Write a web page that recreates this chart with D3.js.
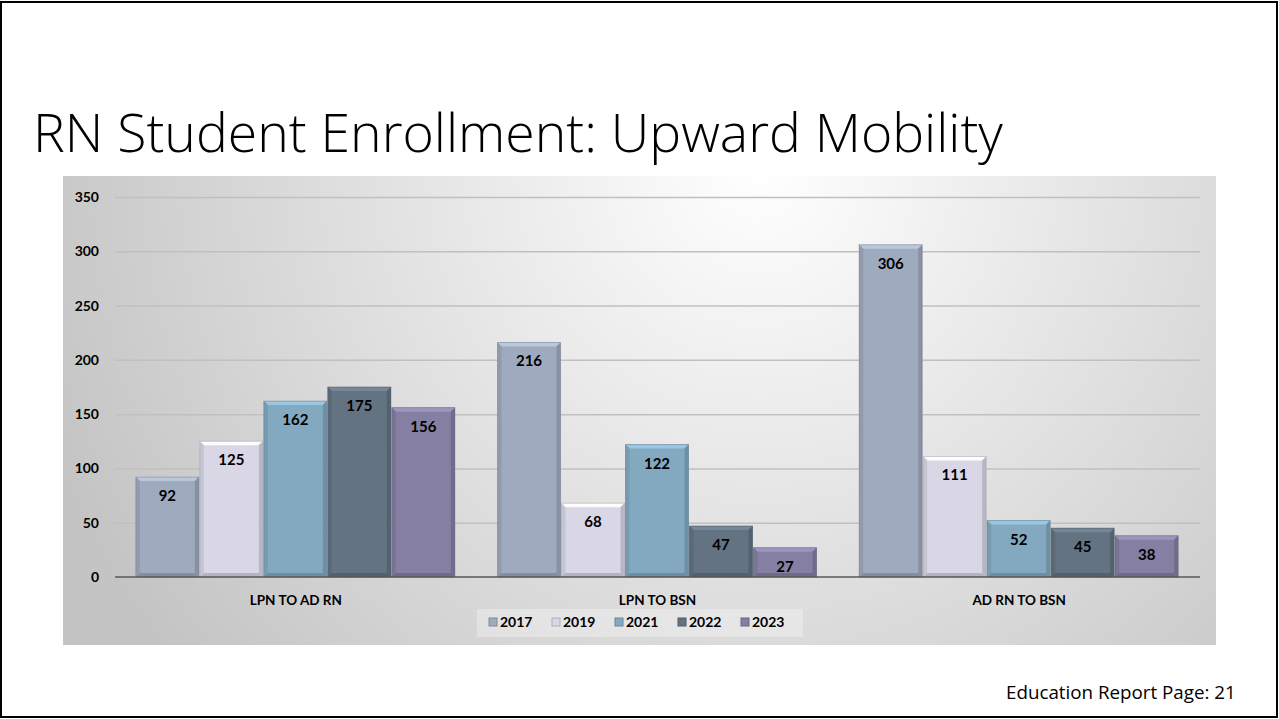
<!DOCTYPE html>
<html>
<head>
<meta charset="utf-8">
<script src="https://cdn.jsdelivr.net/npm/d3@7"></script>
<style>
  html, body { margin: 0; padding: 0; background: #fff; }
  svg { display: block; }
</style>
</head>
<body>
<div id="chart"></div>
<script>
// data
const categories = ["LPN TO AD RN", "LPN TO BSN", "AD RN TO BSN"];
const years = ["2017", "2019", "2021", "2022", "2023"];
const s2017 = [92, 216, 306];
const s2019 = [125, 68, 111];
const s2021 = [162, 122, 52];
const s2022 = [175, 47, 45];
const s2023 = [156, 27, 38];
const yTicks = [0, 50, 100, 150, 200, 250, 300, 350];
const colors = ["#9eaabd", "#d9d7e6", "#82a9c0", "#637382", "#857fa3"];

const series = [s2017, s2019, s2021, s2022, s2023];
const rows = [];
categories.forEach((c, ci) => {
    years.forEach((yr, yi) => {
        rows.push({cat: c, year: yr, value: series[yi][ci], color: colors[yi]});
    });
});

var w = 1279;
var h = 719;

const svg = d3.select("#chart")
    .append("svg")
    .attr("width", w)
    .attr("height", h);

const defs = svg.append("defs");
const bg = defs.append("radialGradient")
    .attr("id", "bg")
    .attr("gradientUnits", "userSpaceOnUse")
    .attr("cx", 760).attr("cy", 170)
    .attr("r", 760)
    .attr("fx", 760).attr("fy", 170);
bg.append("stop").attr("offset", "0%").attr("stop-color", "#ffffff");
bg.append("stop").attr("offset", "100%").attr("stop-color", "#c4c4c4");

// slide frame
svg.append("rect")
    .attr("x", 1).attr("y", 2)
    .attr("width", 1276).attr("height", 715)
    .attr("fill", "#fff")
    .attr("stroke", "#000")
    .attr("stroke-width", 2);

// title
const title = svg.append("text")
    .attr("x", 33).attr("y", 152)
    .attr("font-family", "'Open Sans', sans-serif")
    .attr("font-weight", 300)
    .attr("font-size", 50)
    .attr("fill", "#000")
    .text("RN Student Enrollment: Upward Mobility");
fitWidth(title, 970);

// chart area
svg.append("rect")
    .attr("x", 63).attr("y", 176)
    .attr("width", 1153).attr("height", 469)
    .attr("fill", "url(#bg)");

var scaleY = d3.scaleLinear()
    .domain([0, 350])
    .range([577, 197]);

var x0 = d3.scaleBand()
    .domain(categories)
    .range([115, 1200])
    .paddingInner(0)
    .paddingOuter(0);

var x1 = d3.scaleBand()
    .domain(years)
    .range([0, x0.bandwidth()])
    .paddingInner(0)
    .paddingOuter(0.326);

// gridlines
svg.append("g")
    .selectAll("line")
    .data(yTicks.filter(t => t > 0))
    .enter()
    .append("line")
    .attr("x1", 115).attr("x2", 1200)
    .attr("y1", d => scaleY(d) + 0.5)
    .attr("y2", d => scaleY(d) + 0.5)
    .attr("stroke", "#c0c0c0")
    .attr("stroke-width", 1.5);

// y labels
svg.append("g")
    .selectAll("text")
    .data(yTicks)
    .enter()
    .append("text")
    .attr("x", 99)
    .attr("y", d => scaleY(d) + 5)
    .attr("text-anchor", "end")
    .attr("font-family", "Lato, sans-serif")
    .attr("font-weight", "bold")
    .attr("font-size", 14)
    .attr("fill", "#000")
    .text(d => d);

// bars with a bevel look
const bars = svg.append("g")
    .selectAll("g")
    .data(rows)
    .enter()
    .append("g")
    .attr("transform", d => "translate(" + (x0(d.cat) + x1(d.year)) + ",0)");

bars.each(function(d) {
    const g = d3.select(this);
    const bw = x1.bandwidth() - 1;
    const top = scaleY(d.value);
    const bot = scaleY(0);
    const e = 4;
    const c = d3.color(d.color);
    g.append("rect")
        .attr("x", 0).attr("y", top)
        .attr("width", bw).attr("height", bot - top)
        .attr("fill", d.color);
    // top bevel
    g.append("polygon")
        .attr("points", [[0, top], [bw, top], [bw - e, top + e], [e, top + e]].join(" "))
        .attr("fill", c.brighter(0.45));
    // left bevel
    g.append("polygon")
        .attr("points", [[0, top], [e, top + e], [e, bot - e], [0, bot]].join(" "))
        .attr("fill", c.darker(0.25));
    // right bevel
    g.append("polygon")
        .attr("points", [[bw, top], [bw, bot], [bw - e, bot - e], [bw - e, top + e]].join(" "))
        .attr("fill", c.darker(0.45));
    // bottom bevel
    g.append("polygon")
        .attr("points", [[0, bot], [bw, bot], [bw - e, bot - e], [e, bot - e]].join(" "))
        .attr("fill", c.darker(0.5));
    g.append("rect")
        .attr("x", 0).attr("y", top)
        .attr("width", bw).attr("height", bot - top)
        .attr("fill", "none")
        .attr("stroke", c.darker(0.8))
        .attr("stroke-opacity", 0.5)
        .attr("stroke-width", 1);
    g.append("text")
        .attr("x", bw / 2)
        .attr("y", top + 24)
        .attr("text-anchor", "middle")
        .attr("font-family", "Lato, sans-serif")
        .attr("font-weight", "bold")
        .attr("font-size", 15)
        .attr("fill", "#000")
        .text(d.value);
});

// baseline
svg.append("line")
    .attr("x1", 115).attr("x2", 1200)
    .attr("y1", scaleY(0)).attr("y2", scaleY(0))
    .attr("stroke", "#595959")
    .attr("stroke-width", 1.5);

// category labels
svg.append("g")
    .selectAll("text")
    .data(categories)
    .enter()
    .append("text")
    .attr("x", d => x0(d) + x0.bandwidth() / 2)
    .attr("y", 605)
    .attr("text-anchor", "middle")
    .attr("font-family", "Lato, sans-serif")
    .attr("font-weight", "bold")
    .attr("font-size", 13.5)
    .attr("fill", "#000")
    .text(d => d);

// legend
svg.append("rect")
    .attr("x", 477).attr("y", 609)
    .attr("width", 326).attr("height", 28)
    .attr("fill", "#fff")
    .attr("fill-opacity", 0.3);

const legend = svg.append("g")
    .selectAll("g")
    .data(years)
    .enter()
    .append("g")
    .attr("transform", (d, i) => "translate(" + (489 + i * 63) + ",618)");

legend.append("rect")
    .attr("width", 8).attr("height", 8)
    .attr("fill", (d, i) => colors[i])
    .attr("stroke", (d, i) => d3.color(colors[i]).darker(0.6))
    .attr("stroke-width", 1);

legend.append("text")
    .attr("x", 11).attr("y", 9)
    .attr("font-family", "Lato, sans-serif")
    .attr("font-weight", "bold")
    .attr("font-size", 14)
    .attr("fill", "#000")
    .text(d => d);

// footer
const foot = svg.append("text")
    .attr("x", 1006).attr("y", 699)
    .attr("font-family", "'Open Sans', sans-serif")
    .attr("font-size", 17)
    .attr("fill", "#000")
    .text("Education Report Page: 21");
fitWidth(foot, 230);

function fitWidth(sel, target) {
    const len = sel.node().getComputedTextLength();
    const fs = +sel.attr("font-size");
    sel.attr("font-size", fs * target / len);
}
</script>
</body>
</html>
